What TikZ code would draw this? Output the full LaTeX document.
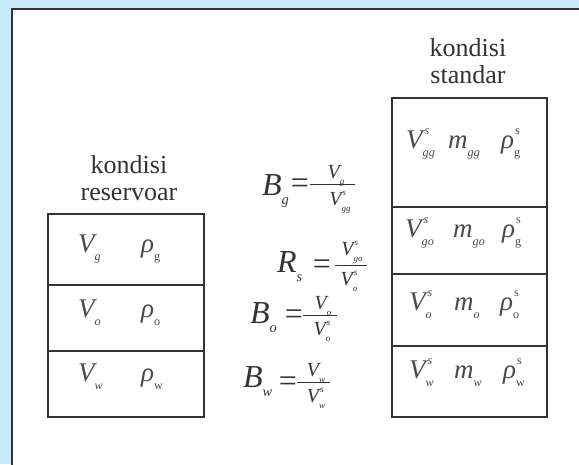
\documentclass[tikz,border=0pt]{standalone}
\usepackage{fontspec}
\setmainfont{Liberation Serif}
\makeatletter
\newcommand{\fsz}[1]{\fontsize{\fpeval{#1*\f@size}}{\fpeval{#1*\f@size}}\selectfont}
\makeatother
% base with subscript
\newcommand{\SB}[2]{#1\raisebox{-0.3em}{\fsz{0.45}#2}}
% base with superscript and subscript
\newcommand{\SBP}[3]{#1\rlap{\raisebox{0.5em}{\fsz{0.45}#2}}\raisebox{-0.3em}{\fsz{0.45}#3}}
\definecolor{bgblue}{HTML}{C8E9F8}
\definecolor{ink}{HTML}{333333}
\definecolor{cellink}{HTML}{4A4A4A}
\tikzset{
  cell/.style={draw=ink, line width=1.6pt, anchor=north west, inner sep=0pt},
  lab/.style={text=ink, anchor=base, font=\fontsize{26}{28}\selectfont, inner sep=0pt},
  ct/.style={text=cellink, anchor=base west, font=\fontsize{27}{29}\selectfont\itshape, inner sep=0pt},
  big/.style={text=ink, anchor=base west, font=\fontsize{32}{34}\selectfont\itshape, inner sep=0pt},
  eqsign/.style={text=ink, anchor=base, font=\fontsize{32}{34}\selectfont, inner sep=0pt},
  fpart/.style={text=ink, anchor=base, font=\fontsize{20}{22}\selectfont\itshape, inner sep=0pt},
  fbar/.style={draw=ink, line width=0.8pt}
}
\begin{document}
\begin{tikzpicture}[x=1pt,y=-1pt]
\useasboundingbox (0,0) rectangle (579,464);
\clip (0,0) rectangle (579,464);
\fill[bgblue] (0,0) rectangle (579,464);
\filldraw[fill=white, draw=ink, line width=2pt] (12,9) rectangle (600,490);

% ---------- left box (reservoir conditions)
\node[cell, minimum width=156pt, minimum height=71pt] (lg) at (47,213) {};
\node[cell, minimum width=156pt, minimum height=66pt] (lo) at (47,284) {};
\node[cell, minimum width=156pt, minimum height=66pt] (lw) at (47,350) {};
\node[ct] (lgV) at (78,252) {\SB{V}{g}};
\node[ct] (lgR) at (141,252) {\SB{ρ}{\upshape g}};
\node[ct] (loV) at (78,317) {\SB{V}{o}};
\node[ct] (loR) at (141,317) {\SB{ρ}{\upshape o}};
\node[ct] (lwV) at (78,381) {\SB{V}{w}};
\node[ct] (lwR) at (141,381) {\SB{ρ}{\upshape w}};
\node[lab] (lres1) at (129,173) {kondisi};
\node[lab] (lres2) at (129,200) {reservoar};

% ---------- right box (standard conditions)
\node[cell, minimum width=155pt, minimum height=109pt] (rgg) at (391,97) {};
\node[cell, minimum width=155pt, minimum height=67pt] (rgo) at (391,206) {};
\node[cell, minimum width=155pt, minimum height=72pt] (ro) at (391,273) {};
\node[cell, minimum width=155pt, minimum height=71pt] (rw) at (391,345) {};
\node[ct] (r1V) at (406,148) {\SBP{V}{\kern2pt s}{gg}};
\node[ct] (r1m) at (448,148) {\SB{m}{gg}};
\node[ct] (r1R) at (501,148) {\SBP{ρ}{\kern1pt\upshape s}{\upshape g}};
\node[ct] (r2V) at (405,237) {\SBP{V}{\kern2pt s}{go}};
\node[ct] (r2m) at (453,237) {\SB{m}{go}};
\node[ct] (r2R) at (502,237) {\SBP{ρ}{\kern1pt\upshape s}{\upshape g}};
\node[ct] (r3V) at (409,310) {\SBP{V}{\kern2pt s}{o}};
\node[ct] (r3m) at (454,310) {\SB{m}{o}};
\node[ct] (r3R) at (500,310) {\SBP{ρ}{\kern1pt\upshape s}{\upshape o}};
\node[ct] (r4V) at (409,378) {\SBP{V}{\kern2pt s}{w}};
\node[ct] (r4m) at (454,378) {\SB{m}{w}};
\node[ct] (r4R) at (503,378) {\SBP{ρ}{\kern1pt\upshape s}{\upshape w}};
\node[lab] (rstd1) at (468,56) {kondisi};
\node[lab] (rstd2) at (468,83) {standar};

% ---------- formulas
% B_g = V_g / V^s_gg
\node[big] (fBg) at (262,195) {\SB{B}{g}};
\node[eqsign] (fBgEq) at (300,193) {=};
\coordinate (bgL) at (310,184);
\coordinate (bgR) at (355,184);
\draw[fbar] (bgL) -- (bgR);
\node[fpart] (fBgN) at (336,178) {\SB{V}{g}};
\node[fpart] (fBgD) at (340,205) {\SBP{V}{\kern1pt s}{gg}};

% R_s = V^s_go / V^s_o
\node[big] (fRs) at (277,272) {\SB{R}{s}};
\node[eqsign] (fRsEq) at (322,274) {=};
\coordinate (rsL) at (335,265);
\coordinate (rsR) at (367,265);
\draw[fbar] (rsL) -- (rsR);
\node[fpart] (fRsN) at (352,255) {\SBP{V}{\kern1pt s}{go}};
\node[fpart] (fRsD) at (349,285) {\SBP{V}{\kern1pt s}{o}};

% B_o = V_o / V^s_o
\node[big] (fBo) at (250,323) {\SB{B}{o}};
\node[eqsign] (fBoEq) at (294,324) {=};
\coordinate (boL) at (303,315);
\coordinate (boR) at (337,315);
\draw[fbar] (boL) -- (boR);
\node[fpart] (fBoN) at (323,309) {\SB{V}{o}};
\node[fpart] (fBoD) at (322,335) {\SBP{V}{\kern1pt s}{o}};

% B_w = V_w / V^s_w
\node[big] (fBw) at (243,387) {\SB{B}{w}};
\node[eqsign] (fBwEq) at (288,391) {=};
\coordinate (bwL) at (297,382);
\coordinate (bwR) at (330,382);
\draw[fbar] (bwL) -- (bwR);
\node[fpart] (fBwN) at (316,376) {\SB{V}{w}};
\node[fpart] (fBwD) at (316,402) {\SBP{V}{\kern1pt s}{w}};
\end{tikzpicture}
\end{document}
